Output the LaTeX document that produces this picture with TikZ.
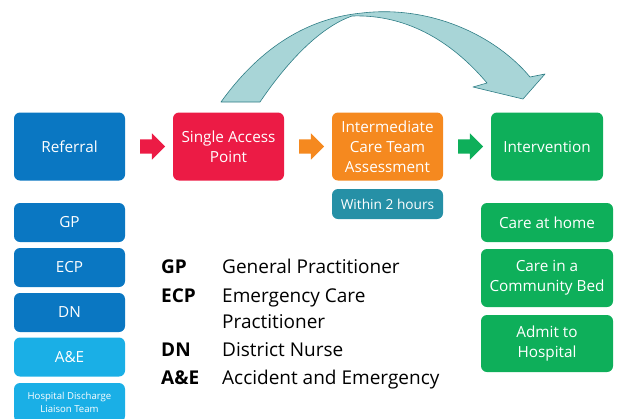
\documentclass[tikz,border=0pt]{standalone}
\usepackage{fontspec}
\setmainfont{Open Sans}
\usetikzlibrary{shapes.arrows, positioning, calc}
\definecolor{referralblue}{HTML}{0A77C2}
\definecolor{lightblue}{HTML}{1AAFE6}
\definecolor{accessred}{HTML}{EC1B45}
\definecolor{assessorange}{HTML}{F5891F}
\definecolor{interventiongreen}{HTML}{0EAF5A}
\definecolor{timeteal}{HTML}{2690A6}
\definecolor{loopfill}{HTML}{A8D5D7}
\definecolor{loopline}{HTML}{2E7D85}
\tikzset{
	box/.style={rectangle, rounded corners=6pt, minimum width=111pt, minimum height=68pt, inner sep=2pt, text=white, align=center, font=\fontsize{15.3}{19.8}\selectfont},
	smallbox/.style={box, minimum height=39pt},
	step arrow/.style={single arrow, minimum height=25pt, inner sep=7pt, single arrow head extend=6pt, draw=none},
	abbrev/.style={anchor=base west, inner sep=0pt, font=\fontsize{19}{26}\selectfont\bfseries},
	meaning/.style={anchor=base west, inner sep=0pt, align=left, font=\fontsize{19}{26}\selectfont}
}
\begin{document}
\begin{tikzpicture}[x=1pt, y=-1pt]
	\useasboundingbox (0,0) rectangle (639,418);
	
	% Main row
	\node[box, fill=referralblue] (referral) at (69.5,146.5) {Referral};
	\node[box, fill=accessred] (access_point) at (228.5,146.5) {Single Access\\Point};
	\node[box, fill=assessorange] (assessment) at (387.5,146.5) {Intermediate\\Care Team\\Assessment};
	\node[box, fill=interventiongreen, minimum width=112pt] (intervention) at (547,146.5) {Intervention};
	
	% Block arrows between the main boxes
	\node[step arrow, fill=accessred] (arrow_1) at ($(referral.east)!0.5!(access_point.west)$) {};
	\node[step arrow, fill=assessorange] (arrow_2) at ($(access_point.east)!0.5!(assessment.west)$) {};
	\node[step arrow, fill=interventiongreen] (arrow_3) at ($(assessment.east)!0.5!(intervention.west)$) {};
	
	% Time limit under the assessment
	\node[box, fill=timeteal, minimum height=30pt, font=\fontsize{13.7}{16}\selectfont] (within) at (387.5,204) {Within 2 hours};
	
	% Referral sources (left column)
	\node[smallbox, fill=referralblue] (source_gp) at (69.5,222.5) {GP};
	\node[smallbox, fill=referralblue] (source_ecp) at (69.5,267.5) {ECP};
	\node[smallbox, fill=referralblue] (source_dn) at (69.5,312.5) {DN};
	\node[smallbox, fill=lightblue] (source_ae) at (69.5,357) {A\&E};
	\node[smallbox, fill=lightblue, font=\fontsize{9.6}{13.5}\selectfont] (source_hdlt) at (69.5,402.5) {Hospital Discharge\\Liaison Team};
	
	% Outcomes (right column)
	\node[smallbox, fill=interventiongreen, minimum width=132pt] (care_home) at (547,222.5) {Care at home};
	\node[box, fill=interventiongreen, minimum width=132pt, minimum height=58pt] (care_bed) at (547,278) {Care in a\\Community Bed};
	\node[box, fill=interventiongreen, minimum width=132pt, minimum height=57pt] (admit) at (547,343.5) {Admit to\\Hospital};
	
	% Legend
	\node[abbrev] (key_gp) at (161,273) {GP};
	\node[meaning] (text_gp) at (222,273) {General Practitioner};
	\node[abbrev] (key_ecp) at (161,302) {ECP};
	\node[meaning] (text_ecp) at (222,328) {Emergency Care\\Practitioner};
	\node[abbrev] (key_dn) at (161,356) {DN};
	\node[meaning] (text_dn) at (222,356) {District Nurse};
	\node[abbrev] (key_ae) at (161,384) {A\&E};
	\node[meaning] (text_ae) at (222,384) {Accident and Emergency};
	
	% Curved arrow over the assessment
	\draw[fill=loopfill, draw=loopline, line width=0.6pt, line join=round]
		(221,102) .. controls (262,45) and (310,18) .. (362,13)
		.. controls (430,5) and (495,35) .. (530,77)
		-- (545,74) -- (523,99) -- (473,87) -- (487,83)
		.. controls (455,45) and (410,14) .. (352,16)
		.. controls (318,28) and (285,65) .. (260,102) -- cycle;
	
\end{tikzpicture}
\end{document}
